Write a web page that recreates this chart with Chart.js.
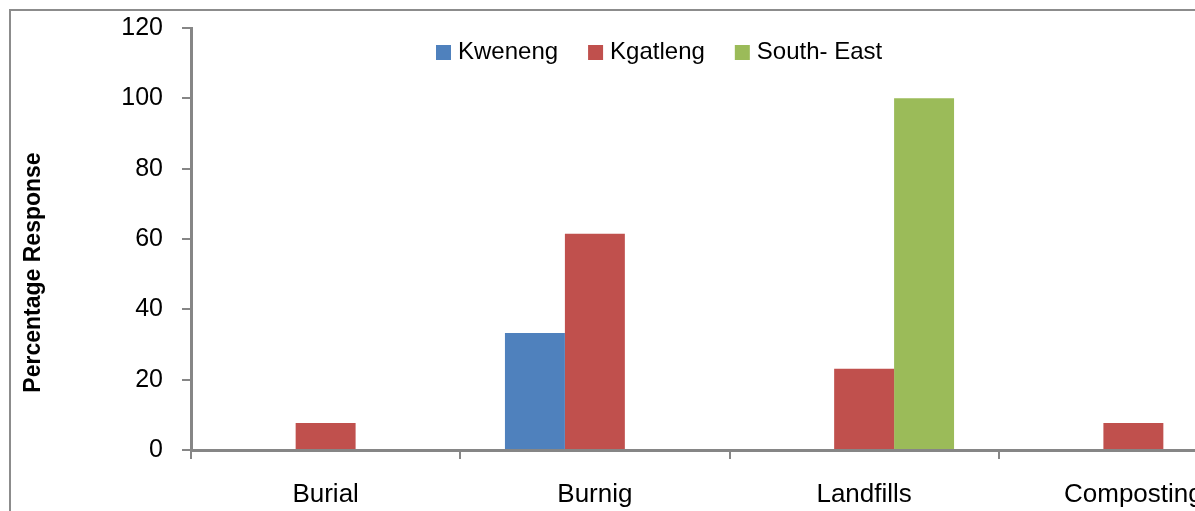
<!DOCTYPE html>
<html>
<head>
<meta charset="utf-8">
<script src="https://cdn.jsdelivr.net/npm/chart.js@4.4.1/dist/chart.umd.min.js"></script>
<style>
  html, body { margin:0; padding:0; background:#fff; overflow:hidden; width:1195px; height:511px; }
  #frame { position:absolute; left:9px; top:9px; width:1400px; height:700px; border:2px solid #8c8c8c; box-sizing:border-box; }
  #wrap { position:absolute; left:0; top:0; width:1320px; height:560px; }
</style>
</head>
<body>
<div id="frame"></div>
<div id="wrap"><canvas id="chart"></canvas></div>
<script>
const categories = ["Burial", "Burnig", "Landfills", "Composting"];
const kweneng  = [0, 33.3, 0, 0];
const kgatleng = [7.7, 61.5, 23.1, 7.7];
const southEast = [0, 0, 100, 0];
const yTicks = [0, 20, 40, 60, 80, 100, 120];

const axisColor = "#868686";
const FONT = "'Liberation Sans', Arial, sans-serif";

// legend + rotated axis title drawn on the canvas
const extras = {
  id: "extras",
  afterDraw(chart){
    const ctx = chart.ctx;
    ctx.save();
    ctx.font = "24px " + FONT;
    ctx.textBaseline = "alphabetic";
    ctx.textAlign = "left";
    let x = 436;
    chart.data.datasets.forEach(ds => {
      ctx.fillStyle = ds.backgroundColor;
      ctx.fillRect(x, 45, 15, 15);
      ctx.fillStyle = "#000";
      ctx.fillText(ds.label, x + 22, 59);
      x += 22 + ctx.measureText(ds.label).width + 30;
    });

    ctx.translate(40, 272.5);
    ctx.rotate(-Math.PI/2);
    ctx.font = "bold 23px " + FONT;
    ctx.textAlign = "center";
    ctx.fillText("Percentage Response", 0, 0);
    ctx.restore();
  }
};

new Chart(document.getElementById("chart").getContext("2d"), {
  type: "bar",
  data: {
    labels: categories,
    datasets: [
      { label: "Kweneng", data: kweneng, backgroundColor: "#4F81BD" },
      { label: "Kgatleng", data: kgatleng, backgroundColor: "#C0504D" },
      { label: "South- East", data: southEast, backgroundColor: "#9BBB59" }
    ]
  },
  options: {
    responsive: true,
    maintainAspectRatio: false,
    animation: false,
    datasets: { bar: { categoryPercentage: 0.668, barPercentage: 1 } },
    layout: { padding: { top: 28, right: 52, left: 0, bottom: 0 } },
    plugins: { legend: { display: false }, tooltip: { enabled: false } },
    scales: {
      x: {
        offset: true,
        grid: { offset: true, drawOnChartArea: false, drawTicks: true, tickLength: 9, color: axisColor, lineWidth: 2 },
        border: { display: true, color: axisColor, width: 3 },
        ticks: { color: "#000", font: { family: FONT, size: 26 }, padding: 20, maxRotation: 0, autoSkip: false },
        afterFit(scale){ scale.height = 110; }
      },
      y: {
        min: 0, max: 120,
        afterBuildTicks(scale){ scale.ticks = yTicks.map(v => ({ value: v })); },
        grid: { drawOnChartArea: false, drawTicks: true, tickLength: 9, color: axisColor, lineWidth: 2 },
        border: { display: true, color: axisColor, width: 3 },
        ticks: { color: "#000", font: { family: FONT, size: 25 }, padding: 19 },
        afterFit(scale){ scale.width = 191; scale.paddingTop = 0; scale.paddingBottom = 0; }
      }
    }
  },
  plugins: [extras]
});
</script>
</body>
</html>
